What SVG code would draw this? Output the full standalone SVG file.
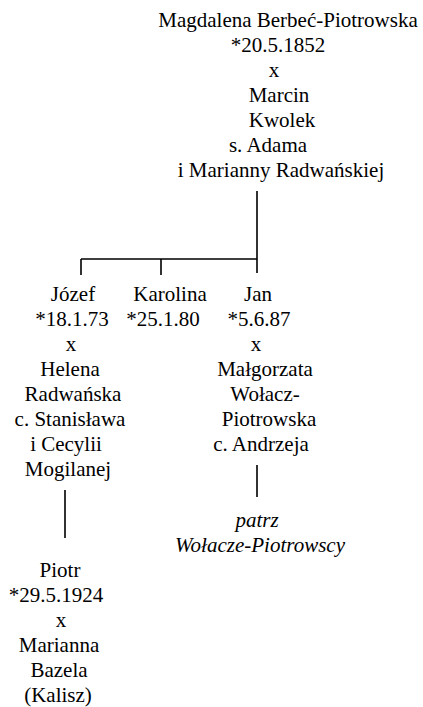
<svg xmlns="http://www.w3.org/2000/svg" width="423" height="707" viewBox="0 0 423 707">
<style>
text{font-family:"Liberation Serif","Times New Roman",serif;font-size:21px;fill:#000;text-anchor:middle}
.i{font-style:italic}
.c{stroke:#000;stroke-width:1.6;fill:none}
</style>
<rect width="423" height="707" fill="#fff"/>
<g id="connectors">
<path class="c" d="M257 191V273M81 259H257M81 259V275M161 259V275M65 490V538M257 465V497"/>
</g>
<g id="magdalena">
<text x="288" y="27">Magdalena Berbeć-Piotrowska</text>
<text x="278" y="52">*20.5.1852</text>
<text x="274" y="77">x</text>
<text x="279" y="102">Marcin</text>
<text x="282" y="127">Kwolek</text>
<text x="268" y="152">s. Adama</text>
<text x="281" y="177">i Marianny Radwańskiej</text>
</g>
<g id="jozef">
<text x="73" y="301">Józef</text>
<text x="72" y="326">*18.1.73</text>
<text x="71" y="351">x</text>
<text x="70" y="376">Helena</text>
<text x="73" y="401">Radwańska</text>
<text x="70" y="426">c. Stanisława</text>
<text x="66" y="451">i Cecylii</text>
<text x="68" y="476">Mogilanej</text>
</g>
<g id="karolina">
<text x="170" y="301">Karolina</text>
<text x="163" y="326">*25.1.80</text>
</g>
<g id="jan">
<text x="258" y="301">Jan</text>
<text x="259" y="326">*5.6.87</text>
<text x="256" y="351">x</text>
<text x="265" y="376">Małgorzata</text>
<text x="265" y="401">Wołacz-</text>
<text x="269" y="426">Piotrowska</text>
<text x="261" y="451">c. Andrzeja</text>
</g>
<g id="patrz">
<text class="i" x="257" y="527">patrz</text>
<text class="i" x="260" y="552">Wołacze-Piotrowscy</text>
</g>
<g id="piotr">
<text x="60" y="577">Piotr</text>
<text x="56" y="602">*29.5.1924</text>
<text x="61" y="627">x</text>
<text x="59" y="652">Marianna</text>
<text x="59" y="677">Bazela</text>
<text x="58" y="702">(Kalisz)</text>
</g>
</svg>
